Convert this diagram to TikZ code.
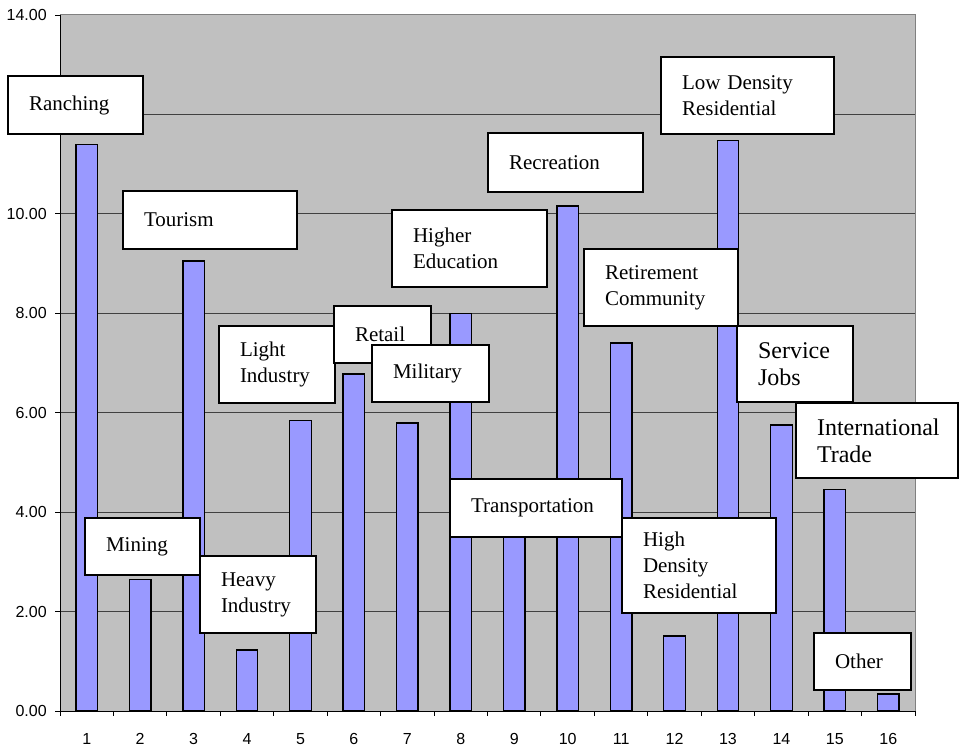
\documentclass[tikz,border=0pt]{standalone}
\usepackage{fontspec}
\setmainfont{Liberation Serif}
\newfontfamily\axisfont{Liberation Sans}
\definecolor{plotbg}{HTML}{C0C0C0}
\definecolor{barfill}{HTML}{9999FF}
\begin{document}
\begin{tikzpicture}[x=0.75pt,y=-0.75pt,
  lbl/.style={draw=black, line width=1.1pt, fill=white, align=left, inner xsep=15.75pt, inner ysep=0pt, font=\fontsize{15.75}{19.5}\selectfont},
  biglbl/.style={lbl, font=\fontsize{18}{20.25}\selectfont},
  barbox/.style={draw=black, line width=1pt, fill=barfill},
  gridln/.style={draw=black!75, line width=0.6pt},
  axisln/.style={draw=black, line width=0.75pt},
  ticklbl/.style={font=\axisfont\fontsize{12}{14}\selectfont, inner sep=0pt}]
\useasboundingbox (0,0) rectangle (959,749);
% plot area
\fill[plotbg] (60,15) rectangle (915,711);
\foreach \v in {2,4,...,12} \draw[gridln] (60,{711-\v*49.714}) -- (915,{711-\v*49.714});
\draw[gray, line width=0.75pt] (60,15) -- (915,15) -- (915,711);
% bars
\foreach \i/\v in {1/11.40,2/2.65,3/9.05,4/1.23,5/5.85,6/6.78,7/5.79,8/7.99,9/4.10,10/10.16,11/7.40,12/1.51,13/11.47,14/5.75,15/4.45,16/0.34}{
  \pgfmathsetmacro\cx{60+(\i-0.5)*53.4375}
  \draw[barbox] ({\cx-10.75},711) rectangle ({\cx+10.75},{711-\v*49.714});
}
% axes
\draw[axisln] (60,15) -- (60,711) -- (915,711);
\foreach \v in {0,2,...,14}{
  \draw[axisln] (55,{711-\v*49.714}) -- (60,{711-\v*49.714});
}
\foreach \v in {0,2,4,6,8,10,14}{
  \node[ticklbl, anchor=east] (y\v) at (47,{711-\v*49.714}) {\v.00};
}
\foreach \k in {0,...,16} \draw[axisln] ({60+\k*53.4375},711) -- ({60+\k*53.4375},716);
\foreach \i in {1,...,16} \node[ticklbl] (x\i) at ({60+(\i-0.5)*53.4375},739) {\i};
% labels
\node[lbl, minimum width=101.25pt, minimum height=43.5pt, text width=69.75pt] (ranching) at (75.5,105) {Ranching};
\node[lbl, minimum width=130.5pt, minimum height=43.5pt, text width=99pt] (tourism) at (210,220) {Tourism};
\node[lbl, minimum width=86.25pt, minimum height=42.75pt, text width=54.75pt] (mining) at (142.5,546.5) {Mining};
\node[lbl, minimum width=87pt, minimum height=57.75pt, text width=55.5pt] (heavy) at (258,594.5) {Heavy\\Industry};
\node[lbl, minimum width=87pt, minimum height=57.75pt, text width=55.5pt] (light) at (277,364.5) {Light\\Industry};
\node[lbl, minimum width=72.75pt, minimum height=42.75pt, text width=41.25pt] (retail) at (382.5,334.5) {Retail};
\node[lbl, minimum width=87.75pt, minimum height=42.75pt, text width=56.25pt] (military) at (430.5,373.5) {Military};
\node[lbl, minimum width=116.25pt, minimum height=57.75pt, text width=84.75pt] (higher) at (469.5,248.5) {Higher\\Education};
\node[lbl, minimum width=116.25pt, minimum height=44.25pt, text width=84.75pt] (recreation) at (565.5,162.5) {Recreation};
\node[lbl, minimum width=129.75pt, minimum height=57.75pt, text width=98.25pt] (lowdens) at (747.5,95.5) {Low Density\\Residential};
\node[lbl, minimum width=115.5pt, minimum height=57.75pt, text width=84pt] (retire) at (661,287.5) {Retirement\\Community};
\node[biglbl, minimum width=87pt, minimum height=57pt, text width=55.5pt] (service) at (795,364) {Service\\Jobs};
\node[biglbl, minimum width=121.5pt, minimum height=56.25pt, text width=90pt] (intl) at (877,440.5) {International\\Trade};
\node[lbl, minimum width=129pt, minimum height=43.5pt, text width=97.5pt] (transport) at (536,508) {Transportation};
\node[lbl, minimum width=115.5pt, minimum height=71.25pt, text width=84pt] (highdens) at (699,565.5) {High\\Density\\Residential};
\node[lbl, minimum width=72.75pt, minimum height=42.75pt, text width=41.25pt] (other) at (862.5,661.5) {Other};
\end{tikzpicture}
\end{document}
